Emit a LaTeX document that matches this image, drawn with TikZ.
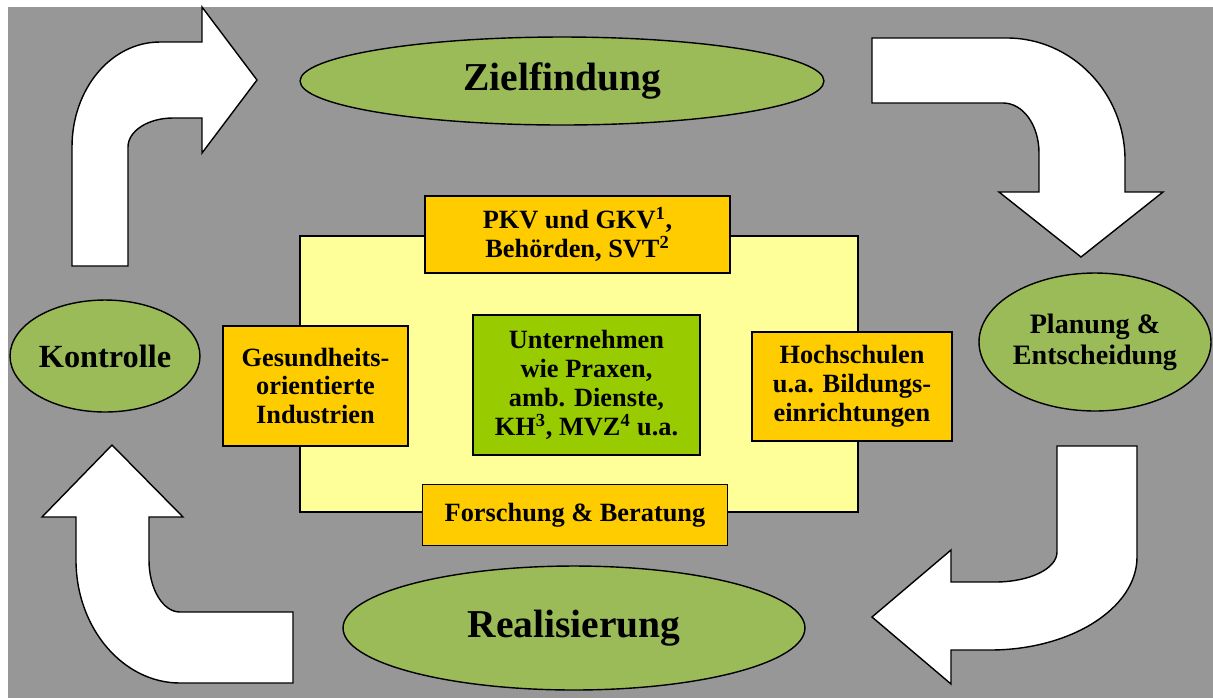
\documentclass[tikz,border=0pt]{standalone}
\usepackage{fontspec}
\setmainfont{Liberation Serif}
\usetikzlibrary{shapes.geometric}
\definecolor{bggray}{HTML}{979797}
\definecolor{phasegreen}{HTML}{9BBB59}
\definecolor{actororange}{HTML}{FFCC00}
\definecolor{coreyellow}{HTML}{FFFF99}
\definecolor{coregreen}{HTML}{99CC00}

\begin{document}
\begin{tikzpicture}[
    x=0.02cm, y=-0.02cm,
    phase/.style={
        ellipse, draw=black, fill=phasegreen, line width=0.8pt,
        inner sep=0pt, align=center
    },
    actor/.style={
        draw=black, fill=actororange, line width=0.9pt, inner sep=0pt,
        align=center, font=\fontsize{15}{16.5}\selectfont\bfseries
    },
    turn/.style={draw=black, fill=white, line width=0.8pt, line join=miter},
]

% ---- canvas ----
\useasboundingbox (0,0) rectangle (1213,698);
\fill[bggray] (8,7) rectangle (1213,698);

% ---- the four phases of the cycle ----
\node[phase, minimum width=10.48cm, minimum height=1.76cm,
      font=\fontsize{22.5}{26}\selectfont\bfseries] (ziel) at (562,81) {Zielfindung};
\node[phase, minimum width=4.2cm, minimum height=2.76cm,
      font=\fontsize{16}{17.6}\selectfont\bfseries] (plan) at (1095,342) {Planung \&\\ Entscheidung};
\node[phase, minimum width=9.24cm, minimum height=2.48cm,
      font=\fontsize{22.5}{26}\selectfont\bfseries] (real) at (574,628) {Realisierung};
\node[phase, minimum width=3.8cm, minimum height=2.24cm,
      font=\fontsize{18.4}{21}\selectfont\bfseries] (kontr) at (105,356) {Kontrolle};

% ---- centre: field with its actors ----
\node[draw=black, fill=coreyellow, line width=0.8pt, minimum width=11.16cm,
      minimum height=5.52cm] (field) at (579,374) {};
\node[draw=black, fill=coregreen, line width=0.9pt, inner sep=0pt, align=center,
      minimum width=4.54cm, minimum height=2.8cm,
      font=\fontsize{15}{16.5}\selectfont\bfseries] (firms) at (586.5,385)
    {Unternehmen\\ wie Praxen,\\ amb. Dienste,\\ KH\textsuperscript{3}, MVZ\textsuperscript{4} u.a.};
\node[actor, minimum width=6.1cm, minimum height=1.54cm] (kassen) at (577.5,234.5)
    {PKV und GKV\textsuperscript{1},\\ Behörden, SVT\textsuperscript{2}};
\node[actor, minimum width=3.7cm, minimum height=2.4cm] (industrie) at (315.5,386)
    {Gesundheits-\\ orientierte\\ Industrien};
\node[actor, minimum width=4cm, minimum height=2.18cm] (hochschulen) at (852,386.5)
    {Hochschulen\\ u.a. Bildungs-\\ einrichtungen};
\node[actor, minimum width=6.1cm, minimum height=1.22cm] (forschung) at (575,515)
    {Forschung \& Beratung};

% ---- block arrows: Kontrolle -> Zielfindung ----
\draw[turn] (72,266) -- (72,147) .. controls (72,89) and (111,42) .. (160,42)
    -- (202,42) -- (202,7) -- (257,80) -- (202,153) -- (202,118) -- (173,118)
    .. controls (148,118) and (128,131) .. (128,147) -- (128,266) -- cycle;

% ---- Zielfindung -> Planung ----
\draw[turn] (872,38) -- (1007,38) .. controls (1072,38) and (1125,93) .. (1125,160)
    -- (1125,192) -- (1163,192) -- (1081,257) -- (999,192) -- (1039,192) -- (1039,153)
    .. controls (1039,125) and (1023,103) .. (1003,103) -- (872,103) -- cycle;

% ---- Planung -> Realisierung ----
\draw[turn] (1057,446) -- (1137,446) -- (1137,557) .. controls (1137,608) and (1071,650) .. (990,650)
    -- (951,650) -- (951,684) -- (872,617) -- (951,550) -- (951,582) -- (995,582)
    .. controls (1029,582) and (1057,569) .. (1057,552) -- cycle;

% ---- Realisierung -> Kontrolle ----
\draw[turn] (112,445) -- (183,517) -- (149,517) -- (149,560)
    .. controls (149,589) and (163,612) .. (180,612) -- (293,612) -- (293,683) -- (180,683)
    .. controls (123,683) and (76,628) .. (76,560) -- (76,517) -- (42,517) -- cycle;

\end{tikzpicture}
\end{document}
